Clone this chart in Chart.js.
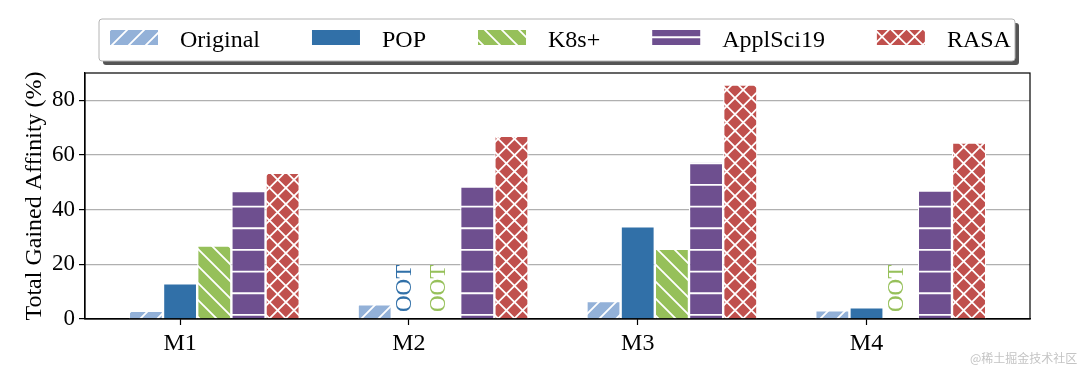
<!DOCTYPE html>
<html lang="en">
<head>
    <meta charset="UTF-8">
    <title>Total Gained Affinity</title>
    <script src="https://cdn.jsdelivr.net/npm/chart.js"></script>
    <style>
        html, body {
            margin: 0;
            padding: 0;
            background: #fff;
        }
        .wrap {
            position: relative;
            width: 1080px;
            height: 369px;
        }
        .mark {
            position: absolute;
            left: 970px;
            top: 349px;
            font: 12px 'Noto Sans CJK SC', sans-serif;
            color: #c4c4c4;
            white-space: nowrap;
        }
    </style>
</head>
<body>
    <div class="wrap">
        <canvas id="affinityChart"></canvas>
        <div class="mark">@稀土掘金技术社区</div>
    </div>
    <script>
        // values; null = OOT (out of time)
        const models = ['M1', 'M2', 'M3', 'M4'];
        const original = [3.0, 5.4, 6.6, 3.2];
        const pop = [13.1, null, 33.9, 4.3];
        const k8s = [26.9, null, 25.7, null];
        const applSci = [46.8, 48.5, 57.6, 47.0];
        const rasa = [53.5, 67.0, 85.8, 64.6];
        const yTicks = [0, 20, 40, 60, 80];

        const seriesNames = ['Original', 'POP', 'K8s+', 'ApplSci19', 'RASA'];
        const seriesValues = [original, pop, k8s, applSci, rasa];
        const seriesColors = ['#93b1d8', '#3170a8', '#96c05a', '#6e4f8f', '#c0504d'];
        const seriesHatch = ['/', '', '\\', '-', 'x'];

        const groupWidth = 0.747;   // share of the slot used by the 5 bars
        const barStep = groupWidth / seriesNames.length;

        Chart.defaults.font.family = '"Liberation Serif", "Times New Roman", serif';
        Chart.defaults.color = '#000';

        // build a white hatch pattern over a solid fill (3 periods per tile)
        function makeHatch(color, hatch) {
            if (!hatch) return color;
            const period = hatch === '-' ? 21.67 : (hatch === 'x' ? 16.33 : 17);
            const n = Math.round(period * 3);
            const step = n / 3;
            const c = document.createElement('canvas');
            c.width = n;
            c.height = n;
            const g = c.getContext('2d');
            g.fillStyle = color;
            g.fillRect(0, 0, n, n);
            g.strokeStyle = '#ffffff';
            g.lineWidth = 1.8;
            g.beginPath();
            if (hatch === '-') {
                for (let j = 0; j < 3; j++) {
                    const y = 11.6 + j * step;
                    g.moveTo(0, y);
                    g.lineTo(n, y);
                }
            }
            if (hatch === '/' || hatch === 'x') {
                for (let j = -1; j <= 7; j++) {
                    const c0 = j * step;
                    g.moveTo(c0 + 3, -3);
                    g.lineTo(c0 - n - 3, n + 3);
                }
            }
            if (hatch === '\\' || hatch === 'x') {
                for (let j = -4; j <= 4; j++) {
                    const c0 = j * step;
                    g.moveTo(c0 - 3, -3);
                    g.lineTo(c0 + n + 3, n + 3);
                }
            }
            g.stroke();
            return g.createPattern(c, 'repeat');
        }

        const datasets = seriesNames.map((name, k) => ({
            label: name,
            data: models.map((m, i) => ({ x: i, y: seriesValues[k][i] })),
            backgroundColor: makeHatch(seriesColors[k], seriesHatch[k]),
            borderColor: '#ffffff',
            borderWidth: 1.2,
            categoryPercentage: groupWidth,
            barPercentage: 1
        }));

        // "OOT" markers where a method has no value
        const ootLabels = {
            id: 'ootLabels',
            afterDatasetsDraw(chart) {
                const g = chart.ctx;
                const xs = chart.scales.x;
                const yBase = chart.scales.y.getPixelForValue(0);
                const slot = xs.getPixelForValue(1) - xs.getPixelForValue(0);
                g.save();
                g.font = '23px "Liberation Serif"';
                g.textAlign = 'left';
                g.textBaseline = 'alphabetic';
                chart.data.datasets.forEach((ds, k) => {
                    ds.data.forEach((pt, i) => {
                        if (pt.y !== null) return;
                        const x = xs.getPixelForValue(i) + (k - 2) * barStep * slot;
                        g.save();
                        g.translate(x - 5.5, yBase - 7);
                        g.rotate(-Math.PI / 2);
                        g.fillStyle = seriesColors[k];
                        g.fillText('OOT', 0, 7.6);
                        g.restore();
                    });
                });
                g.restore();
            }
        };

        // black frame on all four sides, above the bars
        const frame = {
            id: 'frame',
            afterDatasetsDraw(chart) {
                const { left, right, top, bottom } = chart.chartArea;
                const g = chart.ctx;
                g.save();
                g.strokeStyle = '#000';
                g.lineWidth = 1.2;
                g.strokeRect(left, top, right - left, bottom - top);
                g.restore();
            }
        };

        // matplotlib-like legend box with shadow
        const legendBox = {
            id: 'legendBox',
            afterDraw(chart) {
                const g = chart.ctx;
                const x0 = 99, y0 = 19, w = 916, h = 42;
                g.save();
                g.fillStyle = '#555555';
                g.beginPath();
                g.roundRect(x0 + 4, y0 + 4, w, h, 3);
                g.fill();
                g.fillStyle = '#ffffff';
                g.strokeStyle = '#b4b4b4';
                g.lineWidth = 1;
                g.beginPath();
                g.roundRect(x0, y0, w, h, 3);
                g.fill();
                g.stroke();
                g.font = '24px "Liberation Serif"';
                g.textBaseline = 'alphabetic';
                let x = x0 + 11;
                chart.data.datasets.forEach(ds => {
                    // shift so the hatch lines sit mid-patch
                    g.save();
                    g.translate(0, 4);
                    g.fillStyle = ds.backgroundColor;
                    g.fillRect(x, 26, 48, 15);
                    g.restore();
                    g.fillStyle = '#000';
                    g.fillText(ds.label, x + 70, 47);
                    x += 70 + g.measureText(ds.label).width + 52;
                });
                g.restore();
            }
        };

        new Chart(document.getElementById('affinityChart'), {
            type: 'bar',
            data: { datasets: datasets },
            options: {
                responsive: true,
                maintainAspectRatio: false,
                animation: false,
                events: [],
                layout: { padding: { left: 0, top: 73, right: 50, bottom: 0 } },
                plugins: {
                    legend: { display: false },
                    tooltip: { enabled: false }
                },
                scales: {
                    x: {
                        type: 'linear',
                        min: -0.565,
                        max: 3.565,
                        bounds: 'data',
                        offset: false,
                        afterBuildTicks: s => { s.ticks = models.map((m, i) => ({ value: i - barStep })); },
                        afterFit: s => { s.height = 50; },
                        ticks: {
                            autoSkip: false,
                            maxRotation: 0,
                            padding: 4,
                            color: '#000',
                            font: { size: 24 },
                            callback: (v, i) => models[i]
                        },
                        grid: {
                            offset: false,
                            drawOnChartArea: false,
                            drawTicks: true,
                            tickLength: 6,
                            tickColor: '#000',
                            tickWidth: 1.2
                        },
                        border: { color: '#000', width: 1.2 }
                    },
                    y: {
                        min: 0,
                        max: 90,
                        bounds: 'data',
                        afterBuildTicks: s => { s.ticks = yTicks.map(v => ({ value: v })); },
                        afterFit: s => { s.width = 85; },
                        ticks: { color: '#000', padding: 4, font: { size: 23 } },
                        grid: {
                            color: ctx => (ctx.tick && ctx.tick.value === 0) ? 'rgba(0,0,0,0)' : '#b0b0b0',
                            lineWidth: 1.2,
                            tickColor: '#000',
                            tickLength: 6,
                            tickWidth: 1.2
                        },
                        border: { color: '#000', width: 1.2 },
                        title: {
                            display: true,
                            text: 'Total Gained Affinity (%)',
                            color: '#000',
                            font: { size: 24 },
                            padding: { top: 20, bottom: 0 }
                        }
                    }
                }
            },
            plugins: [ootLabels, frame, legendBox]
        });
    </script>
</body>
</html>
